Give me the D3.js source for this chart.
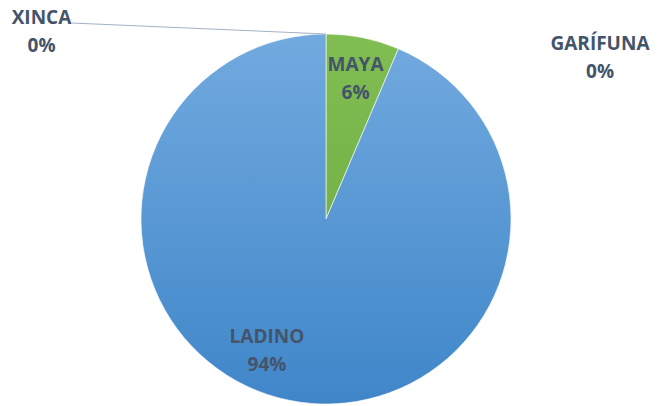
<!DOCTYPE html>
<html>
<head>
<meta charset="utf-8">
<script src="https://cdn.jsdelivr.net/npm/d3@7"></script>
<style>
  body { margin: 0; background: #fff; }
  svg { display: block; }
</style>
</head>
<body>
<svg id="chart" width="657" height="406"></svg>
<script>
// data
const categories = ["MAYA", "GARÍFUNA", "LADINO", "XINCA"];
const values = [6.4, 0, 93.6, 0];

// label anchors (first baseline), relative to the pie centre
const labelOffsets = [[29.5, -148], [274, -169], [-59, 124], [-284.5, -195]];

const width = 657, height = 406;
const cx = 326, cy = 219, radius = 185;
const lineGap = 28;

const svg = d3.select("#chart");
const defs = svg.append("defs");

const grads = [
  ["g-green", "#80bd52", "#6aa83d"],
  ["g-blue", "#72aadf", "#3f86c9"]
];
grads.forEach(function (g) {
  const lg = defs.append("linearGradient")
    .attr("id", g[0])
    .attr("gradientUnits", "userSpaceOnUse")
    .attr("x1", 0).attr("y1", -radius)
    .attr("x2", 0).attr("y2", radius);
  lg.append("stop").attr("offset", "0%").attr("stop-color", g[1]);
  lg.append("stop").attr("offset", "100%").attr("stop-color", g[2]);
});
const fills = ["url(#g-green)", "url(#g-green)", "url(#g-blue)", "url(#g-blue)"];

const pie = d3.pie().sort(null).value(d => d);
const arcs = pie(values);
const arc = d3.arc().innerRadius(0).outerRadius(radius);
const total = d3.sum(values);

const g = svg.append("g").attr("transform", `translate(${cx},${cy})`);

g.selectAll("path")
  .data(arcs)
  .join("path")
  .attr("d", arc)
  .attr("fill", (d, i) => fills[i])
  .attr("stroke", "#fff")
  .attr("stroke-width", d => d.value > 0 ? 0.6 : 0);

// leader line for the XINCA slice (ends at the top of the pie)
const xi = 3;
const xEnd = d3.pointRadial(arcs[xi].startAngle, radius);
g.append("line")
  .attr("x1", labelOffsets[xi][0] + 30).attr("y1", labelOffsets[xi][1] - 1)
  .attr("x2", xEnd[0]).attr("y2", xEnd[1])
  .attr("stroke", "#a3b1c2")
  .attr("stroke-width", 1);

const labels = g.selectAll("g.lbl")
  .data(arcs)
  .join("g")
  .attr("class", "lbl")
  .attr("transform", (d, i) => `translate(${labelOffsets[i][0]},${labelOffsets[i][1]})`);

labels.append("text")
  .attr("text-anchor", "middle")
  .attr("font-family", "Open Sans, sans-serif")
  .attr("font-weight", "bold")
  .attr("font-size", 19)
  .attr("fill", "#44546a")
  .attr("y", 0)
  .text((d, i) => categories[i]);

labels.append("text")
  .attr("text-anchor", "middle")
  .attr("font-family", "Open Sans, sans-serif")
  .attr("font-weight", "bold")
  .attr("font-size", 19)
  .attr("fill", "#44546a")
  .attr("y", lineGap)
  .text(d => Math.round(d.value / total * 100) + "%");
</script>
</body>
</html>
